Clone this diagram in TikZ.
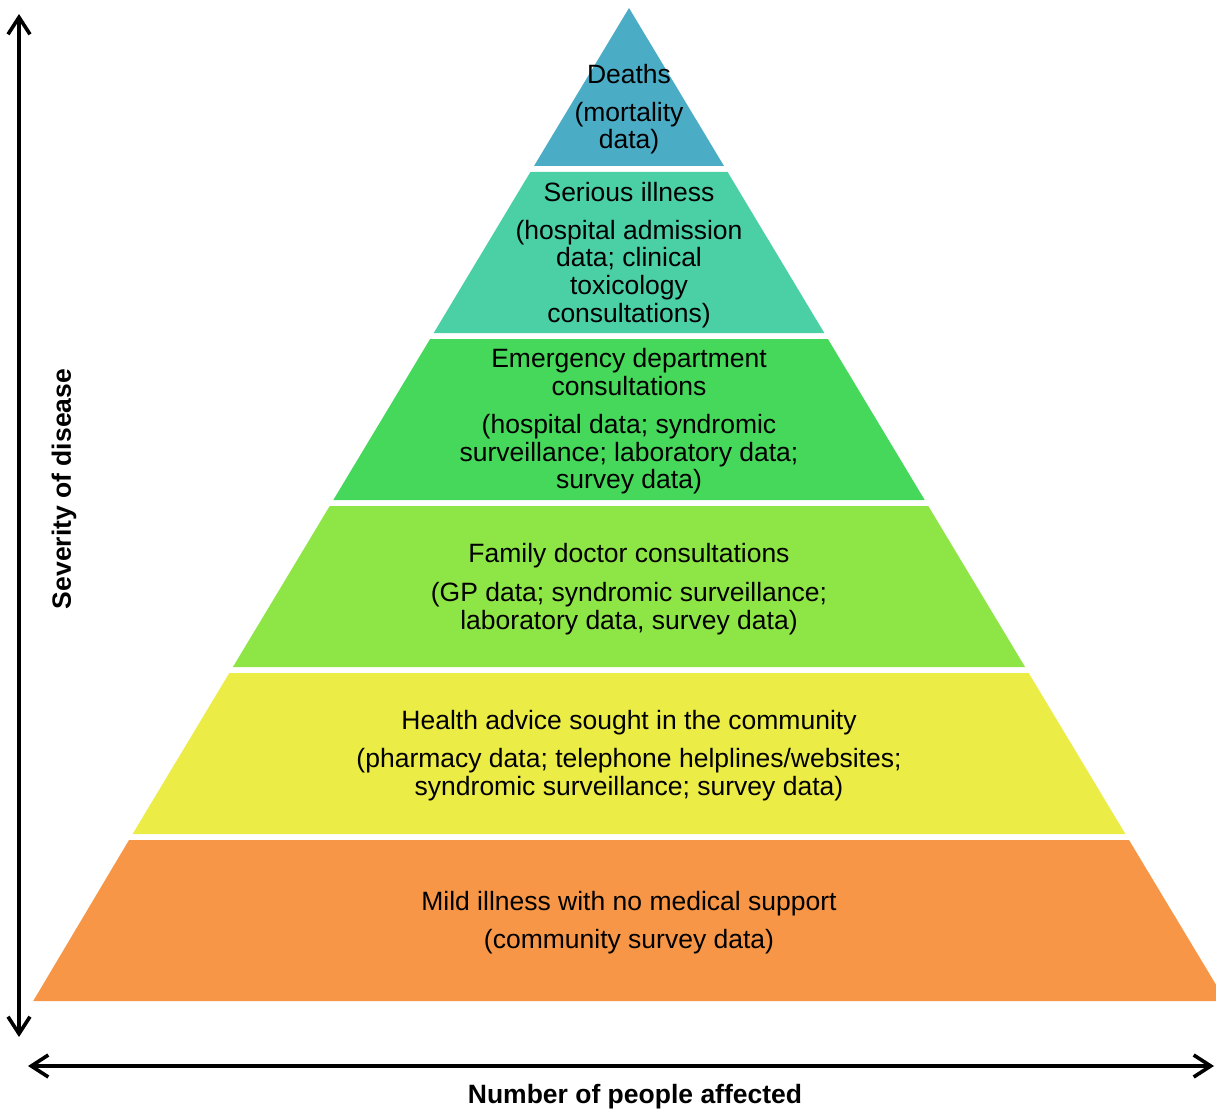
\documentclass[tikz,border=0pt]{standalone}
\usepackage{fontspec}
\setmainfont{Liberation Sans}
\usetikzlibrary{arrows.meta}
\definecolor{cDeath}{RGB}{75,172,198}
\definecolor{cSerious}{RGB}{74,208,164}
\definecolor{cEmerg}{RGB}{70,216,90}
\definecolor{cFamily}{RGB}{142,230,70}
\definecolor{cAdvice}{RGB}{236,236,70}
\definecolor{cMild}{RGB}{247,150,70}
\begin{document}
\begin{tikzpicture}[x=1pt,y=-1pt,
  % anchor=base sits on the baseline of the last line of each text
  txt/.style={font=\fontsize{26.5}{27.5}\selectfont, align=center, anchor=base, inner sep=0pt},
  axlabel/.style={font=\fontsize{26.5}{27.5}\selectfont\bfseries, inner sep=0pt},
  axis/.style={line width=3.6pt, {Straight Barb[length=17pt,width=22pt]}-{Straight Barb[length=17pt,width=22pt]}}]
\useasboundingbox (0,0) rectangle (1216,1110);

% pyramid bands, top to bottom
\fill[cDeath]   (629,8) -- (724,166) -- (534,166) -- cycle;
\fill[cSerious] (530.4,172) -- (727.6,172) -- (824.3,333) -- (433.7,333) -- cycle;
\fill[cEmerg]   (430.1,339) -- (827.9,339) -- (924.7,500) -- (333.3,500) -- cycle;
\fill[cFamily]  (329.7,506) -- (928.3,506) -- (1025.1,667) -- (232.9,667) -- cycle;
\fill[cAdvice]  (229.3,673) -- (1028.7,673) -- (1125.4,834) -- (132.6,834) -- cycle;
\fill[cMild]    (129,840) -- (1129,840) -- (1216,984.7) -- (1216,1001) -- (33.2,1001) -- cycle;

% band texts
\node[txt] (deaths)   at (629,83.5)  {Deaths};
\node[txt] (deathsd)  at (629,149)   {(mortality\\data)};
\node[txt] (serious)  at (629,201.5) {Serious illness};
\node[txt] (seriousd) at (629,322)   {(hospital admission\\data; clinical\\toxicology\\consultations)};
\node[txt] (emerg)    at (629,395)   {Emergency department\\consultations};
\node[txt] (emergd)   at (629,488.5) {(hospital data; syndromic\\surveillance; laboratory data;\\survey data)};
\node[txt] (family)   at (629,562.5) {Family doctor consultations};
\node[txt] (familyd)  at (629,629)   {(GP data; syndromic surveillance;\\laboratory data, survey data)};
\node[txt] (advice)   at (629,729.5) {Health advice sought in the community};
\node[txt] (adviced)  at (629,795)   {(pharmacy data; telephone helplines/websites;\\syndromic surveillance; survey data)};
\node[txt] (mild)     at (629,910.5) {Mild illness with no medical support};
\node[txt] (mildd)    at (629,948.5) {(community survey data)};

% axes
\coordinate (ytop) at (19,14);
\coordinate (ybot) at (19,1037);
\coordinate (xleft) at (28,1066);
\coordinate (xright) at (1214,1066);
\draw[axis] (ybot) -- (ytop);
\draw[axis] (xleft) -- (xright);
\node[axlabel, rotate=90] (ylab) at (64,489) {Severity of disease};
\node[axlabel] (xlab) at (635,1097) {Number of people affected};
\end{tikzpicture}
\end{document}
